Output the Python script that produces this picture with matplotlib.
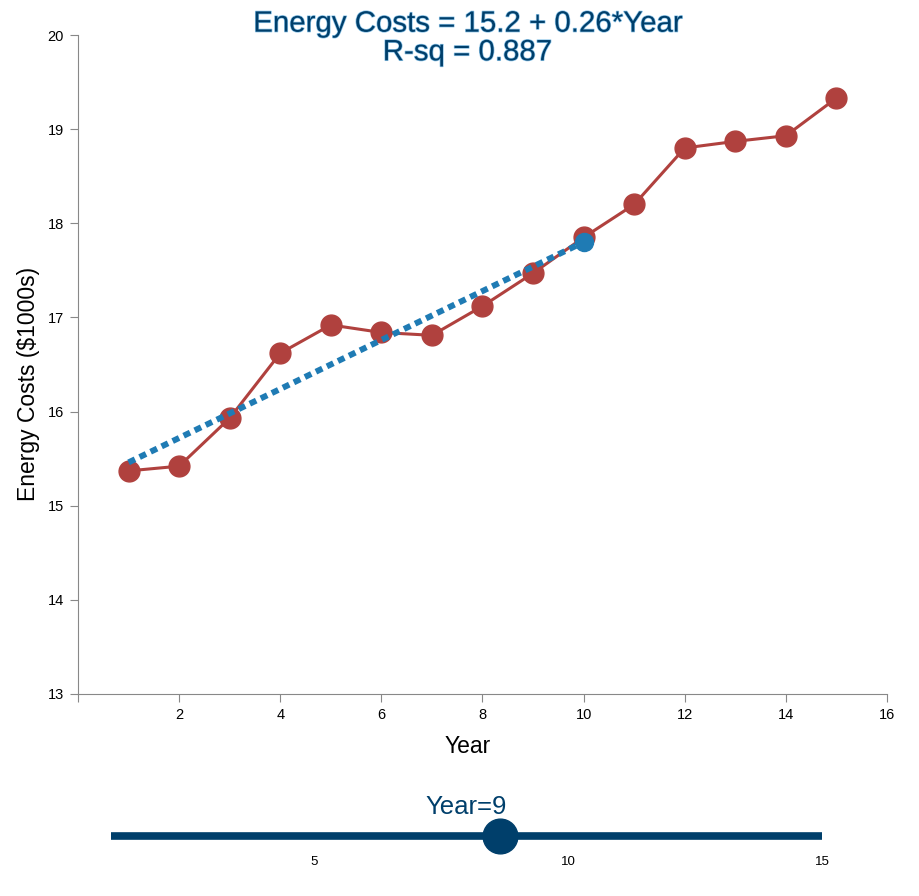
import numpy as np
import matplotlib.pyplot as plt
import matplotlib.patheffects as pe

plt.rcParams['font.family'] = ['Liberation Sans', 'DejaVu Sans']

# Data
years = [1, 2, 3, 4, 5, 6, 7, 8, 9, 10, 11, 12, 13, 14, 15]
costs = [15.37, 15.42, 15.93, 16.62, 16.92, 16.84, 16.81, 17.12, 17.47,
         17.85, 18.20, 18.80, 18.87, 18.93, 19.33]
intercept = 15.2
slope = 0.26
fit_years = [1, 10]
slider_value = 8.65
slider_label = "Year=9"
slider_ticks = [5, 10, 15]

red = '#b0413e'
blue = '#1f7bb4'
navy = '#003f6b'

fig = plt.figure(figsize=(9.2, 8.96), dpi=100)
ax = fig.add_axes([78 / 920, 1 - 694 / 896, (887 - 78) / 920, (694 - 35) / 896])

ax.plot(years, costs, color=red, lw=2.2, marker='o', ms=15, zorder=3)
fx = np.array(fit_years)
fy = intercept + slope * fx
ax.plot(fx, fy, color=blue, lw=4.3, linestyle=(0, (1.2, 0.85)),
        dash_capstyle='butt', zorder=4)
ax.plot(fx[-1:], fy[-1:], 'o', color=blue, ms=13, zorder=5)

ax.set_xlim(0, 16)
ax.set_ylim(13, 20)
ax.set_xticks([0, 2, 4, 6, 8, 10, 12, 14, 16])
ax.set_xticklabels([''] + [str(v) for v in range(2, 17, 2)])
ax.set_yticks(range(13, 21))
for s in ['top', 'right']:
    ax.spines[s].set_visible(False)
for s in ['left', 'bottom']:
    ax.spines[s].set_color('#888888')
ax.tick_params(direction='out', length=6, color='#888888', labelsize=10.5, pad=4)
ax.set_xlabel('Year', fontsize=16.5)
ax.xaxis.set_label_coords((468 - 78) / 809, -0.062)
ax.set_ylabel('Energy Costs ($1000s)', fontsize=16.5)
ax.yaxis.set_label_coords(-0.047, 0.47)

title = f"Energy Costs = {intercept} + {slope}*Year\nR-sq = 0.887"
fig.text(467 / 920, 1 - 38 / 896, title, ha='center', va='center', fontsize=21.2,
         color=navy, linespacing=1.03,
         path_effects=[pe.withStroke(linewidth=1.0, foreground='#8cc4e8')])

# Slider
sax = fig.add_axes([60.2 / 920, 1 - 875 / 896, (873 - 60.2) / 920, 85 / 896])
sax.set_xlim(0, 16)
sax.set_ylim(0, 1)
sax.axis('off')
sax.plot([1, 15], [0.46, 0.46], color=navy, lw=5.5, solid_capstyle='butt')
sax.plot([slider_value], [0.46], 'o', color=navy, ms=25)
for t in slider_ticks:
    sax.text(t, 0.15, str(t), ha='center', va='center', fontsize=9.5)
sax.text(8.0, 0.80, slider_label, ha='center', va='center', fontsize=18.5, color=navy)

fig.savefig('out.png', dpi=100)
